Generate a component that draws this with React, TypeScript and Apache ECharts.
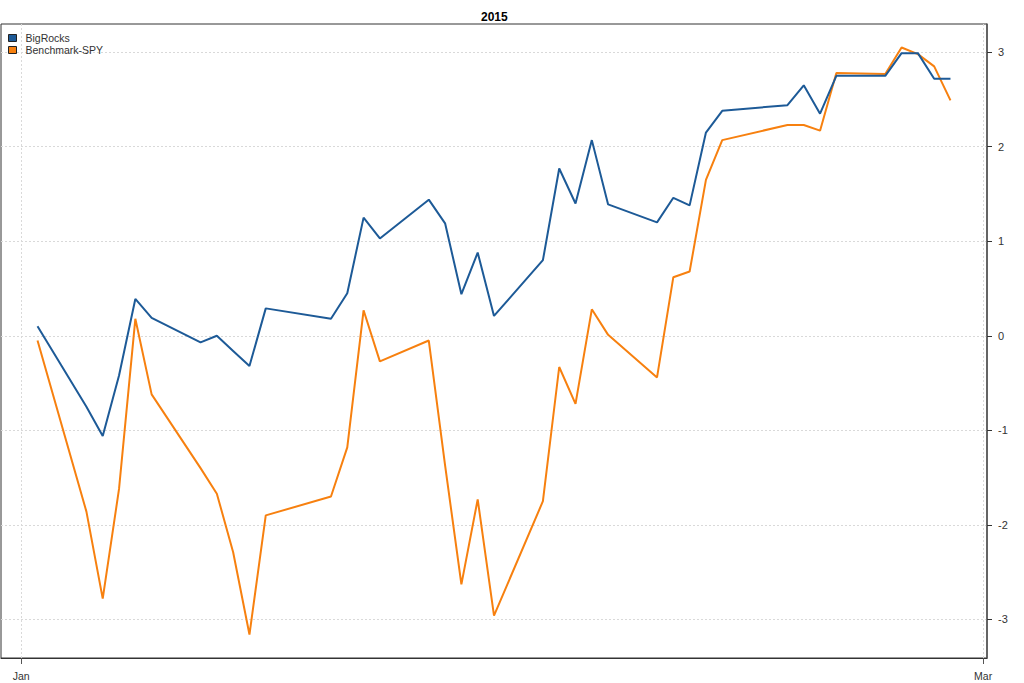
import React, { useEffect, useRef } from "react";
import * as echarts from "echarts";

const dates = [
  "2015-01-02", "2015-01-05", "2015-01-06", "2015-01-07", "2015-01-08", "2015-01-09",
  "2015-01-12", "2015-01-13", "2015-01-14", "2015-01-15", "2015-01-16",
  "2015-01-20", "2015-01-21", "2015-01-22", "2015-01-23",
  "2015-01-26", "2015-01-27", "2015-01-28", "2015-01-29", "2015-01-30",
  "2015-02-02", "2015-02-03", "2015-02-04", "2015-02-05", "2015-02-06",
  "2015-02-09", "2015-02-10", "2015-02-11", "2015-02-12", "2015-02-13",
  "2015-02-17", "2015-02-18", "2015-02-19", "2015-02-20",
  "2015-02-23", "2015-02-24", "2015-02-25", "2015-02-26", "2015-02-27",
];

const bigRocks = [
  0.10, -0.75, -1.06, -0.42, 0.39, 0.19,
  -0.07, 0.00, -0.16, -0.32, 0.29,
  0.18, 0.45, 1.25, 1.03,
  1.44, 1.19, 0.44, 0.88, 0.21,
  0.80, 1.77, 1.40, 2.07, 1.39,
  1.20, 1.46, 1.38, 2.15, 2.38,
  2.44, 2.65, 2.35, 2.75,
  2.75, 2.99, 2.99, 2.72, 2.72,
];

const benchmarkSpy = [
  -0.05, -1.86, -2.78, -1.62, 0.18, -0.62,
  -1.40, -1.67, -2.29, -3.16, -1.90,
  -1.70, -1.18, 0.27, -0.27,
  -0.05, -1.37, -2.63, -1.73, -2.96,
  -1.75, -0.33, -0.72, 0.28, 0.01,
  -0.44, 0.62, 0.68, 1.65, 2.07,
  2.23, 2.23, 2.17, 2.78,
  2.77, 3.05, 2.98, 2.85, 2.49,
];

const seriesNames = ["BigRocks", "Benchmark-SPY"];
const xTickDates = ["2015-01-01", "2015-03-01"];
const xTickLabels = ["Jan", "Mar"];
const yTicks = [-3, -2, -1, 0, 1, 2, 3];

const DAY = 86400000;
const origin = Date.UTC(2015, 0, 1);
const toDay = (s: string) => {
  const [y, m, d] = s.split("-").map(Number);
  return (Date.UTC(y, m - 1, d) - origin) / DAY;
};

export default function App() {
  const ref = useRef<HTMLDivElement>(null);
  useEffect(() => {
    if (!ref.current) return;
    const chart = echarts.init(ref.current, undefined, { renderer: "svg" });
    const xs = dates.map(toDay);
    const xTicks = xTickDates.map(toDay);
    const labelMap: Record<string, string> = {};
    xTicks.forEach((v, i) => (labelMap[String(v)] = xTickLabels[i]));
    const allVals = bigRocks.concat(benchmarkSpy);
    const yMinD = Math.min(...allVals);
    const yMaxD = Math.max(...allVals);
    const yPad = (yMaxD - yMinD) * 0.04;
    const xMinD = Math.min(...xs);
    const xMaxD = Math.max(...xs);
    const xPad = (xMaxD - xMinD) * 0.04;
    const font = "'Liberation Sans', Arial, sans-serif";
    chart.setOption({
      animation: false,
      backgroundColor: "#ffffff",
      title: {
        text: "2015",
        left: 476,
        top: 6,
        textStyle: { fontSize: 12, fontWeight: "bold", color: "#000", fontFamily: font },
      },
      legend: {
        orient: "vertical",
        left: 8,
        top: 32,
        icon: "rect",
        itemWidth: 8,
        itemHeight: 7,
        itemGap: 0,
        padding: 0,
        data: seriesNames,
        itemStyle: { borderColor: "#222", borderWidth: 1 },
        textStyle: {
          fontSize: 10.5,
          color: "#333",
          fontFamily: font,
          lineHeight: 12,
          padding: [0, 0, 0, 4],
        },
      },
      grid: {
        left: 1,
        right: 37,
        top: 24,
        bottom: 25,
        show: true,
        borderColor: "#333",
        borderWidth: 1,
        backgroundColor: "transparent",
      },
      xAxis: {
        type: "value",
        min: xMinD - xPad,
        max: xMaxD + xPad,
        axisLine: { show: true, onZero: false, lineStyle: { color: "#333", width: 1 } },
        axisTick: {
          show: true,
          length: 6,
          customValues: xTicks,
          lineStyle: { color: "#555" },
        },
        axisLabel: {
          show: true,
          customValues: xTicks,
          margin: 12,
          fontSize: 10.5,
          color: "#333",
          fontFamily: font,
          formatter: (v: number) => labelMap[String(v)] ?? "",
        },
        splitLine: {
          show: true,
          lineStyle: { color: "#d9d9d9", type: [2, 2], width: 1 },
        },
      },
      yAxis: {
        type: "value",
        position: "right",
        min: yMinD - yPad,
        max: yMaxD + yPad,
        axisLine: { show: true, onZero: false, lineStyle: { color: "#555", width: 1.5 } },
        axisTick: {
          show: true,
          length: 5,
          customValues: yTicks,
          lineStyle: { color: "#333" },
        },
        axisLabel: {
          show: true,
          customValues: yTicks,
          margin: 11,
          fontSize: 11,
          color: "#333",
          fontFamily: font,
          formatter: (v: number) => String(v),
        },
        splitLine: {
          show: true,
          lineStyle: { color: "#d9d9d9", type: [2, 2], width: 1 },
        },
      },
      series: [
        {
          name: seriesNames[0],
          type: "line",
          data: xs.map((x, i) => [x, bigRocks[i]]),
          showSymbol: false,
          symbol: "none",
          lineStyle: { color: "#1d5a97", width: 2 },
          itemStyle: { color: "#1d5a97" },
          z: 3,
        },
        {
          name: seriesNames[1],
          type: "line",
          data: xs.map((x, i) => [x, benchmarkSpy[i]]),
          showSymbol: false,
          symbol: "none",
          lineStyle: { color: "#f7800f", width: 2 },
          itemStyle: { color: "#f7800f" },
          z: 2,
        },
      ],
    });
    return () => chart.dispose();
  }, []);
  return (
    <div
      ref={ref}
      style={{ position: "absolute", left: 0, top: 0, width: 1024, height: 683, background: "#fff" }}
    />
  );
}
